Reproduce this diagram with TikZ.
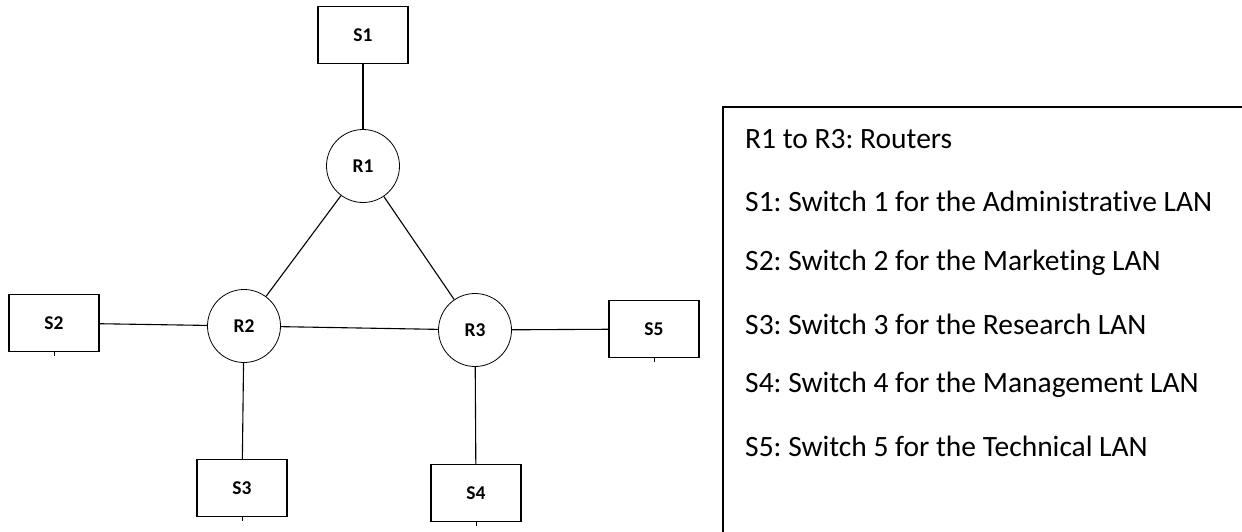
\documentclass[tikz,border=0pt]{standalone}
\usepackage{fontspec}
\setmainfont{Carlito}[Ligatures=NoCommon]
\begin{document}
\frenchspacing
\begin{tikzpicture}[x=1pt,y=-1pt,
  switchbox/.style={draw, line width=1.3pt, minimum width=90pt, minimum height=57pt, inner sep=0pt, font=\fontsize{19.5}{19.5}\selectfont\bfseries},
  router/.style={draw, circle, line width=0.8pt, minimum size=73pt, inner sep=0pt, font=\fontsize{19.5}{19.5}\selectfont\bfseries},
  link/.style={line width=1.1pt},
  legendtext/.style={anchor=west, inner sep=0pt, font=\fontsize{29.5}{29.5}\selectfont}
]
\useasboundingbox (0,0) rectangle (1242,531);
\clip (0,0) rectangle (1242,531);
\fill[white] (0,0) rectangle (1242,531);

\node[switchbox] (S1) at (363,35) {S1};
\node[switchbox] (S2) at (54,323) {S2};
\node[switchbox] (S3) at (242,488) {S3};
\node[switchbox] (S4) at (476,493) {S4};
\node[switchbox] (S5) at (654,329) {S5};

\node[router] (R1) at (363,166) {R1};
\node[router] (R2) at (244,326) {R2};
\node[router] (R3) at (475,330) {R3};

\draw[link] (S1) -- (R1);
\draw[link] (R1) -- (R2);
\draw[link] (R1) -- (R3);
\draw[link] (R2) -- (R3);
\draw[link] (S2) -- (R2);
\draw[link] (R2) -- (S3);
\draw[link] (R3) -- (S4);
\draw[link] (R3) -- (S5);

\draw[line width=0.8pt] (S2.south) -- ++(0,4);
\draw[line width=0.8pt] (S3.south) -- ++(0,4);
\draw[line width=0.8pt] (S4.south) -- ++(0,4);
\draw[line width=0.8pt] (S5.south) -- ++(0,4);

\coordinate (LB) at (723,545);
\coordinate (LC) at (723,107);
\coordinate (LR) at (1250,107);
\draw[line width=1.8pt] (LB) -- (LC) -- (LR);

\node[legendtext] (L0) at (745,139) {R1 to R3: Routers};
\node[legendtext] (L1) at (745,201) {S1: Switch 1 for the Administrative LAN};
\node[legendtext] (L2) at (745,263) {S2: Switch 2 for the Marketing LAN};
\node[legendtext] (L3) at (745,324) {S3: Switch 3 for the Research LAN};
\node[legendtext] (L4) at (745,385) {S4: Switch 4 for the Management LAN};
\node[legendtext] (L5) at (745,446) {S5: Switch 5 for the Technical LAN};
\end{tikzpicture}
\end{document}
